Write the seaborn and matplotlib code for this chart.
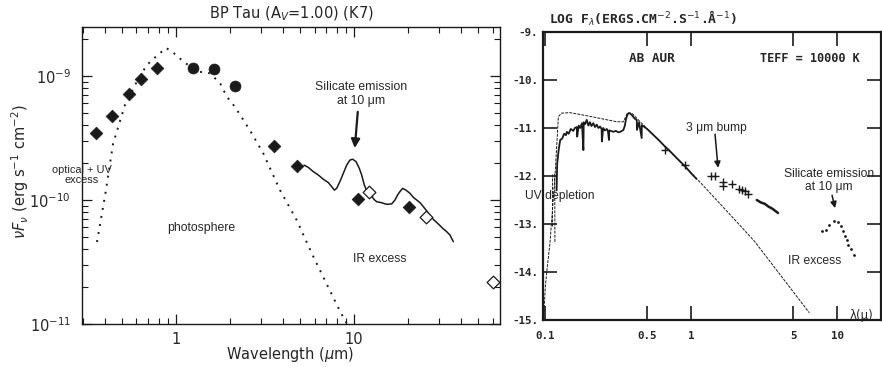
import matplotlib
matplotlib.use("Agg")
import matplotlib.pyplot as plt
import numpy as np
import pandas as pd
import seaborn as sns
from matplotlib.ticker import (FixedLocator, NullFormatter, NullLocator,
                               LogLocator, LogFormatterSciNotation)

# ---------------- Left panel data (BP Tau) ----------------
phot_lam = [0.360, 0.403, 0.443, 0.474, 0.517, 0.589, 0.684, 0.779, 0.879, 0.946,
            1.053, 1.20, 1.36, 1.55, 1.77, 1.93, 2.14, 2.39, 2.66, 3.09, 3.84,
            4.76, 5.91, 8.34, 9.14]
phot_F = [4.58e-11, 1.17e-10, 2.83e-10, 3.90e-10, 5.83e-10, 8.46e-10, 1.22e-9,
          1.45e-9, 1.68e-9, 1.58e-9, 1.38e-9, 1.19e-9, 1.08e-9, 1.05e-9, 8.73e-10,
          6.81e-10, 5.65e-10, 4.42e-10, 3.45e-10, 2.38e-10, 1.20e-10, 6.90e-11,
          3.49e-11, 1.27e-11, 1.0e-11]

irs_lam = [5.24, 5.54, 5.91, 6.30, 6.72, 7.18, 7.49, 7.76, 7.99, 8.34, 8.71, 9.10,
           9.50, 9.83, 10.26, 10.71, 11.04, 11.43, 11.78, 12.20, 12.57, 12.95, 13.41,
           14.30, 15.26, 16.28, 17.00, 17.60, 18.13, 18.77, 19.59, 20.64, 21.54,
           22.49, 23.49, 24.52, 25.82, 26.73, 28.14, 29.77, 31.49, 33.16, 34.6, 36.15]
irs_F = [1.91e-10, 1.83e-10, 1.69e-10, 1.59e-10, 1.47e-10, 1.38e-10, 1.28e-10,
         1.20e-10, 1.24e-10, 1.41e-10, 1.64e-10, 1.91e-10, 2.10e-10, 2.13e-10,
         2.04e-10, 1.80e-10, 1.59e-10, 1.32e-10, 1.19e-10, 1.13e-10, 1.08e-10,
         1.01e-10, 9.68e-11, 9.50e-11, 9.22e-11, 9.29e-11, 1.00e-10, 1.10e-10,
         1.17e-10, 1.24e-10, 1.20e-10, 1.13e-10, 1.05e-10, 1.00e-10, 9.51e-11,
         8.83e-11, 8.05e-11, 7.43e-11, 6.90e-11, 6.40e-11, 5.91e-11, 5.55e-11,
         5.22e-11, 4.61e-11]

diam_lam = [0.354, 0.435, 0.545, 0.633, 0.785, 3.55, 4.78, 10.5, 20.4]
diam_F = [3.45e-10, 4.79e-10, 7.12e-10, 9.46e-10, 1.15e-9, 2.72e-10, 1.88e-10,
          1.02e-10, 8.79e-11]
circ_lam = [1.25, 1.64, 2.15]
circ_F = [1.15e-9, 1.13e-9, 8.26e-10]
open_lam = [12.1, 25.4, 60.3]
open_F = [1.15e-10, 7.25e-11, 2.18e-11]

y_ticks_L = [1e-11, 1e-10, 1e-9]
x_ticks_L = [1, 10]
x_ticklabels_L = ["1", "10"]

# ---------------- Right panel data (AB Aur) ----------------
mod_lam = [0.098, 0.099, 0.1005, 0.103, 0.108, 0.117, 0.1234, 0.130, 0.148, 0.183,
           0.238, 0.310, 0.344, 0.366, 0.393, 0.448, 0.841, 1.17, 1.95, 2.72, 6.46]
mod_F = [-15.0, -14.65, -14.3, -13.96, -13.4, -12.0, -10.76, -10.69, -10.68, -10.73,
         -10.80, -10.87, -10.87, -10.69, -10.69, -10.87, -11.70, -12.15, -12.88,
         -13.36, -14.85]

edge_lam = [0.1115, 0.1115, 0.1165, 0.1168]
edge_F = [-11.95, -13.05, -11.95, -13.40]
edge_seg = [0, 0, 1, 1]

uv_lam = [0.120, 0.121, 0.124, 0.127, 0.131, 0.135, 0.139, 0.141, 0.145, 0.150,
          0.156, 0.160, 0.165, 0.166, 0.170, 0.174, 0.179, 0.183, 0.184, 0.188,
          0.193, 0.198, 0.203, 0.208, 0.214, 0.220, 0.226, 0.232, 0.238, 0.244,
          0.245, 0.250, 0.257, 0.265, 0.270, 0.274, 0.275, 0.282, 0.294, 0.305,
          0.318, 0.327, 0.336, 0.344, 0.352, 0.358, 0.363, 0.370, 0.378, 0.39,
          0.40, 0.41, 0.425, 0.426, 0.44, 0.459, 0.460, 0.48, 0.50, 0.55, 0.60,
          0.66, 0.70, 0.80, 0.91, 1.0, 1.09]
uv_F = [-12.3, -11.75, -11.45, -11.25, -11.22, -11.12, -11.15, -11.08, -11.12,
        -11.02, -11.06, -11.0, -10.98, -11.18, -10.95, -11.0, -10.9, -11.46, -10.88,
        -10.92, -10.83, -10.95, -10.88, -10.96, -10.90, -10.98, -10.93, -11.0,
        -10.97, -11.02, -11.28, -11.0, -11.05, -11.02, -11.08, -11.25, -11.05,
        -11.06, -11.08, -11.06, -11.09, -11.08, -11.06, -11.04, -10.95, -10.82,
        -10.76, -10.70, -10.69, -10.72, -10.76, -10.80, -10.84, -11.04, -10.88,
        -11.21, -10.94, -10.98, -11.02, -11.14, -11.25, -11.38, -11.45, -11.63,
        -11.80, -11.94, -12.06]

nir_lam = [0.66, 0.91, 1.38, 1.45, 1.65, 1.66, 1.90, 2.12, 2.22, 2.35, 2.47]
nir_F = [-11.45, -11.78, -12.00, -12.01, -12.12, -12.20, -12.17, -12.27, -12.30,
         -12.32, -12.37]

lband_lam = [2.82, 3.0, 3.2, 3.4, 3.6, 3.94]
lband_F = [-12.50, -12.55, -12.58, -12.64, -12.68, -12.77]

sil_lam = [7.85, 8.4, 8.86, 9.6, 10.1, 10.6, 10.9, 11.3, 11.7, 11.9, 12.5, 13.0]
sil_F = [-13.14, -13.13, -13.03, -12.93, -12.96, -13.05, -13.15, -13.26, -13.33,
         -13.43, -13.53, -13.64]

x_ticks_R = [0.1, 0.5, 1, 5, 10]
x_ticklabels_R = ["0.1", "0.5", "1", "5", "10"]
y_ticks_R = [-15, -14, -13, -12, -11, -10, -9]
y_ticklabels_R = ["-15.", "-14.", "-13.", "-12.", "-11.", "-10.", "-9."]

# ---------------- Figure ----------------
sns.set_theme(style="white")
plt.rcParams["font.family"] = ["DejaVu Sans"]
plt.rcParams["mathtext.fontset"] = "dejavusans"

W, H = 882, 367
fig = plt.figure(figsize=(W / 100, H / 100), dpi=100)
fig.patch.set_facecolor("white")

axL = fig.add_axes([82 / W, 1 - 324 / H, 418 / W, 297 / H])
axR = fig.add_axes([543 / W, 1 - 320 / H, 338 / W, 288 / H])

# ---- Left ----
axL.set_xscale("log")
axL.set_yscale("log")
axL.set_xlim(0.2965, 66.1)
axL.set_ylim(1e-11, 2.48e-9)

sns.lineplot(x=phot_lam, y=phot_F, ax=axL, color="k", lw=1.4,
             linestyle=(0, (1, 3.2)), sort=False, estimator=None)
sns.lineplot(x=irs_lam, y=irs_F, ax=axL, color="k", lw=1.1,
             sort=False, estimator=None)
sns.scatterplot(x=diam_lam, y=diam_F, ax=axL, marker="D", s=42, color="k",
                edgecolor="k", linewidth=0.5, zorder=5)
sns.scatterplot(x=circ_lam, y=circ_F, ax=axL, marker="o", s=62, color="k",
                edgecolor="k", linewidth=0.5, zorder=5)
sns.scatterplot(x=open_lam, y=open_F, ax=axL, marker="D", s=42, facecolor="white",
                edgecolor="k", linewidth=0.9, zorder=5)

axL.xaxis.set_major_locator(FixedLocator(x_ticks_L))
axL.set_xticklabels(x_ticklabels_L)
axL.xaxis.set_minor_locator(LogLocator(base=10, subs=np.arange(2, 10)))
axL.xaxis.set_minor_formatter(NullFormatter())
axL.yaxis.set_major_locator(FixedLocator(y_ticks_L))
axL.yaxis.set_major_formatter(LogFormatterSciNotation())
axL.yaxis.set_minor_locator(LogLocator(base=10, subs=np.arange(2, 10)))
axL.yaxis.set_minor_formatter(NullFormatter())
axL.tick_params(which="both", direction="in", top=True, right=True,
                bottom=True, left=True, color="k", labelsize=10.5)
axL.tick_params(which="major", length=7, width=0.9)
axL.tick_params(which="minor", length=4, width=0.8)
axL.tick_params(axis="x", pad=6)
axL.tick_params(axis="y", pad=8)
for sp in axL.spines.values():
    sp.set_color("k")
    sp.set_linewidth(1.0)
axL.set_xlabel("")
axL.set_ylabel("")

fig.text(291 / W, 1 - 14 / H, r"BP Tau (A$_V$=1.00) (K7)", ha="center",
         va="center", fontsize=10.5)
fig.text(290 / W, 1 - 354 / H, r"Wavelength ($\mu$m)", ha="center",
         va="center", fontsize=10.5)
fig.text(20 / W, 1 - 172 / H, r"$\nu F_\nu$ (erg s$^{-1}$ cm$^{-2}$)",
         ha="center", va="center", rotation=90, fontsize=10.5)

ann = dict(family="Liberation Sans", fontsize=8.8)
axL.text(10.95, 7.16e-10, "Silicate emission\nat 10 μm", ha="center",
         va="center", linespacing=1.2, **ann)
axL.annotate("", xy=(10.1, 2.62e-10), xytext=(10.5, 5.13e-10),
             arrowprops=dict(arrowstyle="-|>", color="k", lw=1.6,
                             mutation_scale=13, shrinkA=0, shrinkB=0))
axL.text(0.296, 1.59e-10, "optical + UV\nexcess", ha="center", va="center",
         linespacing=1.1, family="Liberation Sans", fontsize=7.9)
axL.text(1.38, 5.94e-11, "photosphere", ha="center", va="center", **ann)
axL.text(14.0, 3.34e-11, "IR excess", ha="center", va="center", **ann)

# ---- Right ----
axR.set_xscale("log")
axR.set_xlim(0.0968, 20.0)
axR.set_ylim(-15, -9)

sns.lineplot(x=mod_lam, y=mod_F, ax=axR, color="k", lw=0.7,
             linestyle=(0, (3, 1.2)), sort=False, estimator=None)
edge_df = pd.DataFrame({"lam": edge_lam, "F": edge_F, "seg": edge_seg})
sns.lineplot(data=edge_df, x="lam", y="F", units="seg", ax=axR, color="k",
             lw=0.7, linestyle=(0, (3, 1.2)), sort=False, estimator=None)
sns.lineplot(x=uv_lam, y=uv_F, ax=axR, color="k", lw=1.3, sort=False,
             estimator=None)
sns.scatterplot(x=nir_lam, y=nir_F, ax=axR, marker="+", s=26, color="k",
                linewidth=1.0, zorder=5)
sns.lineplot(x=lband_lam, y=lband_F, ax=axR, color="k", lw=1.8, sort=False,
             estimator=None)
sns.scatterplot(x=sil_lam, y=sil_F, ax=axR, marker="o", s=4, color="k",
                edgecolor="k", linewidth=0, zorder=5)

axR.xaxis.set_major_locator(FixedLocator(x_ticks_R))
axR.set_xticklabels(x_ticklabels_R)
axR.xaxis.set_minor_locator(NullLocator())
axR.yaxis.set_major_locator(FixedLocator(y_ticks_R))
axR.set_yticklabels(y_ticklabels_R)
axR.tick_params(which="major", direction="in", top=True, right=True,
                bottom=True, left=True, length=10, width=1.2, color="k",
                labelsize=7.8)
axR.tick_params(axis="x", pad=8)
axR.tick_params(axis="y", pad=3.5)
for lab in axR.get_xticklabels() + axR.get_yticklabels():
    lab.set_fontfamily("DejaVu Sans Mono")
    lab.set_fontweight("bold")
for sp in axR.spines.values():
    sp.set_color("k")
    sp.set_linewidth(1.6)
axR.set_xlabel("")
axR.set_ylabel("")

mono = dict(family="DejaVu Sans Mono", fontweight="bold")
fig.text(549 / W, 1 - 18 / H,
         r"LOG F$_\lambda$(ERGS.CM$^{-2}$.S$^{-1}$.Å$^{-1}$)",
         ha="left", va="center", fontsize=9.4, **mono)
axR.text(0.541, -9.56, "AB AUR", ha="center", va="center", fontsize=9.2, **mono)
axR.text(6.53, -9.56, "TEFF = 10000 K", ha="center", va="center",
         fontsize=8.6, **mono)
axR.text(14.8, -14.9, "λ(μ)", ha="center", va="center", fontsize=8.5,
         family="DejaVu Sans")

ann2 = dict(family="Liberation Sans", fontsize=8.7)
axR.text(1.48, -11.0, "3 μm bump", ha="center", va="center", **ann2)
axR.annotate("", xy=(1.53, -11.83), xytext=(1.46, -11.13),
             arrowprops=dict(arrowstyle="-|>", color="k", lw=1.1,
                             mutation_scale=9, shrinkA=0, shrinkB=0))
axR.text(8.81, -12.09, "Silicate emission\nat 10 μm", ha="center",
         va="center", linespacing=1.15, **ann2)
axR.annotate("", xy=(9.69, -12.67), xytext=(9.24, -12.40),
             arrowprops=dict(arrowstyle="-|>", color="k", lw=1.1,
                             mutation_scale=9, shrinkA=0, shrinkB=0))
axR.text(0.1267, -12.42, "UV depletion", ha="center", va="center", **ann2)
axR.text(7.07, -13.77, "IR excess", ha="center", va="center", **ann2)

fig.savefig("out.png", dpi=100, facecolor="white")
